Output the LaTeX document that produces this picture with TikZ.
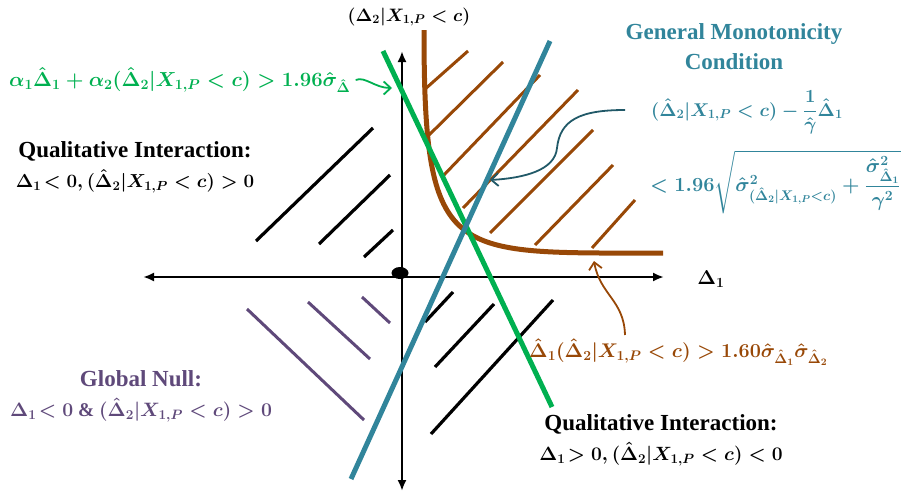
\RequirePackage{fix-cm}
\documentclass[tikz,border=0pt]{standalone}
\usepackage{amsmath}
\usepackage{fontspec}
\setmainfont{Liberation Serif}
\usetikzlibrary{arrows.meta}
\definecolor{cgreen}{RGB}{0,176,80}
\definecolor{cteal}{RGB}{49,133,155}
\definecolor{cteald}{RGB}{33,89,104}
\definecolor{cbrown}{RGB}{152,72,7}
\definecolor{cpurple}{RGB}{95,73,122}
\newcommand\myDh{\hat{\Delta}}
\newcommand\myX{X_{1,P}}
\newcommand\mytx{\fontsize{23}{30}\selectfont}
\newcommand\mysz[1]{\fontsize{#1}{30}\selectfont}
\begin{document}
\begin{tikzpicture}[x=1pt,y=-1pt,
  lbl/.style={inner sep=0pt, font=\fontsize{19.5}{30}\selectfont\bfseries\boldmath, align=center},
  axis/.style={line width=2.4pt, -{Latex[length=11pt,width=9pt]}},
  hatchk/.style={line width=3.2pt, black},
  hatchb/.style={line width=3pt, cbrown},
  hatchp/.style={line width=3pt, cpurple},
  bigline/.style={line width=5pt},
  ann/.style={line width=1.8pt}]
\useasboundingbox (0,0) rectangle (904,493);

% hatching
\draw[hatchk] (256,241) -- (373,128);
\draw[hatchk] (319,244) -- (390,175);
\draw[hatchk] (364,257) -- (393,230);
\draw[hatchk] (425,322) -- (453,292);
\draw[hatchk] (435,367) -- (494,304);
\draw[hatchk] (431,434) -- (553,300);
\draw[hatchp] (247,309) -- (364,420);
\draw[hatchp] (308,302) -- (370,359);
\draw[hatchp] (362,297) -- (390,323);
\draw[hatchb] (424,90) -- (468,51);
\draw[hatchb] (427,137) -- (503,62);
\draw[hatchb] (442,177) -- (540,75);
\draw[hatchb] (463,208) -- (578,90);
\draw[hatchb] (490,233) -- (593,130);
\draw[hatchb] (535,245) -- (613,165);
\draw[hatchb] (592,248) -- (635,200);

% axes
\coordinate (xl) at (143,277);
\coordinate (xr) at (664,277);
\coordinate (yt) at (402,51);
\coordinate (yb) at (402,491);
\coordinate (o) at (402,277);
\draw[axis] (o) -- (xl);
\draw[axis] (o) -- (xr);
\draw[axis] (o) -- (yt);
\draw[axis] (o) -- (yb);
\fill (400,273) ellipse (8.5pt and 6pt);

% big lines
\draw[bigline, cbrown] (424,30) .. controls (424,240) and (445,252) .. (600,253) -- (663,253);
\draw[bigline, cgreen] (383,51) -- (552,407);
\draw[bigline, cteal] (550,41) -- (351,479);

% labels
\node[lbl] (top) at (409,17) {\mysz{18}$(\Delta_2|\myX<c)$};
\node[lbl] (d1) at (711,279) {\mysz{20}$\Delta_1$};
\node[lbl, text=cgreen, anchor=west] (glab) at (9,80) {\mysz{20.3}$\alpha_1\myDh_1+\alpha_2(\myDh_2|\myX<c)>1.96\hat{\sigma}_{\myDh}$};
\node[lbl, text=cteal] (gmc) at (734,47) {\mytx General Monotonicity\\\mytx Condition};
\node[lbl, text=cteal, anchor=west] (bf1) at (651,112) {\mysz{18.5}$(\myDh_2|\myX<c)-\dfrac{1}{\hat{\gamma}}\myDh_1$};
\node[lbl, text=cteal, anchor=west] (bf2) at (650,182) {\mysz{20}$<1.96\sqrt{\hat{\sigma}^2_{(\myDh_2|\myX<c)}+\dfrac{\hat{\sigma}^2_{\myDh_1}}{\gamma^2}}$};
\node[lbl] (qil) at (135,167) {\mytx Qualitative Interaction:\\\mysz{18.8}$\Delta_1\!<0,(\myDh_2|\myX<c)>0$};
\node[lbl, text=cpurple] (gn) at (141,396) {\mytx Global Null:\\\mysz{19.4}$\Delta_1\!<0$ \& $(\myDh_2|\myX<c)>0$};
\node[lbl, text=cbrown, anchor=west] (bl) at (529,352) {\mysz{19.8}$\myDh_1(\myDh_2|\myX<c)>1.60\hat{\sigma}_{\myDh_1}\hat{\sigma}_{\myDh_2}$};
\node[lbl] (qir) at (661,440) {\mytx Qualitative Interaction:\\\mysz{19.2}$\Delta_1\!>0,(\myDh_2|\myX<c)<0$};

% annotation arrows
\coordinate (gend) at (392,88);
\coordinate (bend) at (490,180);
\coordinate (rend) at (594,261);
\draw[ann, cgreen, -{Straight Barb[length=7pt,width=13pt]}] (glab.east) ++(5,0) .. controls (365,76) and (375,88) .. (gend);
\draw[ann, cteald, -{Straight Barb[length=7pt,width=13pt]}] (625,110) .. controls (580,110) and (560,120) .. (557,148) .. controls (555,170) and (525,178) .. (bend);
\draw[ann, cbrown, -{Straight Barb[length=7pt,width=13pt]}] (625,335) .. controls (624,300) and (600,295) .. (rend);
\end{tikzpicture}
\end{document}
